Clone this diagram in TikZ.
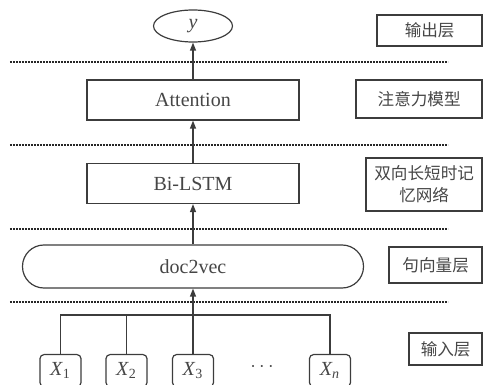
\documentclass[tikz,border=0pt]{standalone}
\usepackage{fontspec}
\setmainfont{Liberation Serif}
\newfontfamily\cjk{Noto Sans CJK SC}
\usepackage{tikz}
\usetikzlibrary{arrows.meta,positioning,shapes.geometric,calc}
\definecolor{lineg}{RGB}{60,60,60}
\definecolor{textg}{RGB}{70,70,70}

\begin{document}
\begin{tikzpicture}[x=0.5pt, y=-0.5pt,
    layer/.style={rectangle, draw=lineg, minimum width=106pt, minimum height=20pt,
        inner sep=0pt, font=\normalsize, text=textg, line width=0.6pt},
    xin/.style={rectangle, draw=lineg, rounded corners=2pt, minimum width=20.5pt,
        minimum height=16pt, inner sep=0pt, anchor=north, text=textg, line width=0.6pt},
    tag/.style={rectangle, draw=lineg, anchor=east, inner sep=0pt, align=center,
        font=\cjk\fontsize{8.3}{11}\selectfont, text=textg, line width=0.8pt},
    arr/.style={-{Triangle[length=4pt, width=3pt]}, draw=lineg, line width=0.6pt},
    sep/.style={draw=black!85, line width=1.2pt, dash pattern=on 0.9pt off 0.6pt}
]
\useasboundingbox (0,0) rectangle (484,385);
\clip (0,0) rectangle (484,385);

% separators between layers
\foreach \yy in {62,145,229,302}
    \draw[sep] (10,\yy) -- (448,\yy);

% main column
\node[ellipse, draw=lineg, line width=0.6pt, minimum width=39.5pt, minimum height=16pt,
    inner sep=0pt, text=textg] (out) at (193,26) {\textit{y}};
\node[layer] (att) at (193,100) {Attention};
\node[layer] (lstm) at (193,183.5) {Bi-LSTM};
\node[layer, minimum width=170.5pt, minimum height=21.5pt, rounded corners=10.7pt]
    (d2v) at (193,266.5) {doc2vec};

\draw[arr] (att) -- (out);
\draw[arr] (lstm) -- (att);
\draw[arr] (d2v) -- (lstm);

% input words
\node[xin] (x1) at (60.5,354) {\textit{X}\textsubscript{1}};
\node[xin] (x2) at (126.5,354) {\textit{X}\textsubscript{2}};
\node[xin] (x3) at (193,354) {\textit{X}\textsubscript{3}};
\node[xin] (xn) at (330,354) {\textit{X\textsubscript{n}}};
\node[text=textg] (dots) at (262,367) {$\cdots$};

\coordinate (bus) at (0,315);
\draw[draw=lineg, line width=0.6pt] (x1.north) |- (bus -| xn.north) -- (xn.north);
\draw[draw=lineg, line width=0.6pt] (x2.north) -- (x2.north |- bus);
\draw[arr] (x3.north) -- (d2v.south);

% layer names
\node[tag, minimum width=52.5pt, minimum height=15.5pt] (t1) at (483,30.5) {输出层};
\node[tag, minimum width=63pt, minimum height=19pt] (t2) at (483,99) {注意力模型};
\node[tag, minimum width=58pt, minimum height=26.5pt] (t3) at (483,184.5) {双向长短时记\\忆网络};
\node[tag, minimum width=46.5pt, minimum height=18pt] (t4) at (483,265) {句向量层};
\node[tag, minimum width=36.5pt, minimum height=16pt] (t5) at (483,349) {输入层};
\end{tikzpicture}
\end{document}
